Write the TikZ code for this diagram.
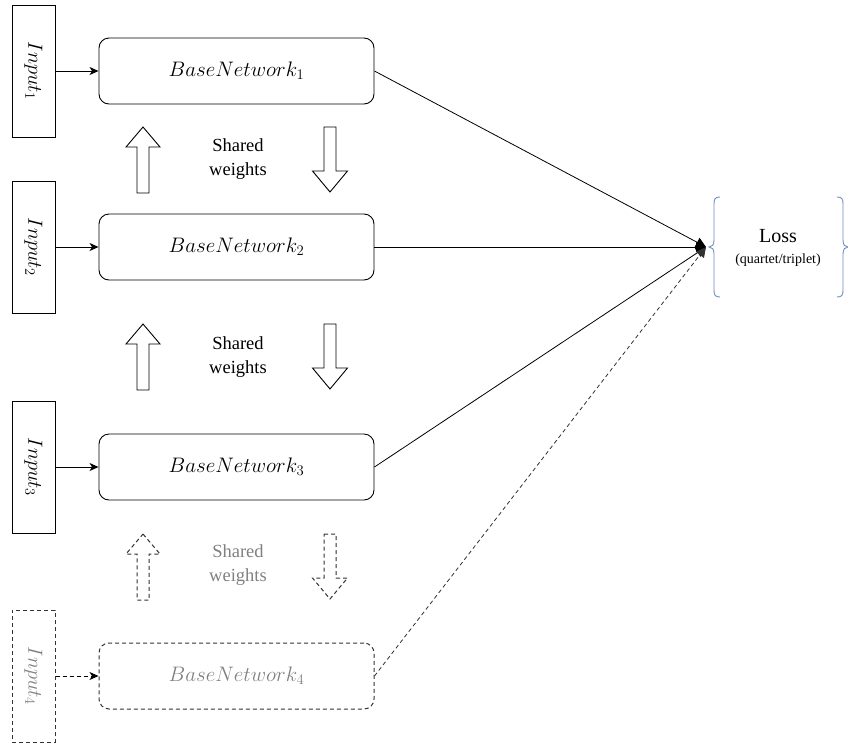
\RequirePackage{fix-cm}
\documentclass[tikz,border=0pt]{standalone}
\usepackage{fontspec}
\setmainfont{Liberation Serif}
\usetikzlibrary{arrows.meta}
\definecolor{braceblue}{RGB}{108,142,191}
\definecolor{ghostline}{RGB}{50,50,50}
\definecolor{ghosttext}{RGB}{128,128,128}
\tikzset{
  inbox/.style={draw, line width=0.9pt, minimum width=43, minimum height=132, inner sep=0pt,
    font=\fontsize{20.5}{24}\selectfont},
  netbox/.style={draw, line width=0.9pt, rounded corners=10, minimum width=275, minimum height=66,
    inner sep=0pt, font=\fontsize{21}{24}\selectfont},
  ghost/.style={draw=ghostline, line width=1pt, dash pattern=on 4pt off 3pt, text=ghosttext},
  sharedtxt/.style={font=\rmfamily\fontsize{18.5}{24}\selectfont, align=center, inner sep=0pt},
  feed/.style={line width=0.9pt, -{Stealth[length=9pt,width=8pt,inset=2.5pt]}},
  tolossarr/.style={line width=0.8pt, -{Triangle[length=10pt,width=10pt]}},
  blockarr/.style={draw, line width=0.9pt, fill=white},
  uparrow/.pic={\path[pic actions] (0,0) -- (17,20) -- (6,20) -- (6,66) -- (-6,66) -- (-6,20) -- (-17,20) -- cycle;},
  downarrow/.pic={\path[pic actions] (-6,0) -- (6,0) -- (6,44) -- (17.5,44) -- (0,65) -- (-17.5,44) -- (-6,44) -- cycle;},
}
\begin{document}
\begin{tikzpicture}[x=1pt,y=-1pt]
\useasboundingbox (0,0) rectangle (848,742);

% input columns
\node[inbox] (in1) at (33.5,71)  {\rotatebox{-90}{$Input_1$}};
\node[inbox] (in2) at (33.5,247) {\rotatebox{-90}{$Input_2$}};
\node[inbox] (in3) at (33.5,467) {\rotatebox{-90}{$Input_3$}};
\node[inbox, ghost] (in4) at (33.5,676) {\rotatebox{-90}{$Input_4$}};

% base networks
\node[netbox] (net1) at (236.5,71)  {$BaseNetwork_1$};
\node[netbox] (net2) at (236.5,247) {$BaseNetwork_2$};
\node[netbox] (net3) at (236.5,467) {$BaseNetwork_3$};
\node[netbox, ghost] (net4) at (236.5,676) {$BaseNetwork_4$};

% shared weights between consecutive networks
\pic[blockarr] at (143,127) {uparrow};
\pic[blockarr] at (330,127) {downarrow};
\node[sharedtxt] (sw1) at (238,159) {Shared\\weights};

\pic[blockarr] at (143,324) {uparrow};
\pic[blockarr] at (330,324) {downarrow};
\node[sharedtxt] (sw2) at (238,357) {Shared\\weights};

\pic[blockarr, ghost] at (143,534) {uparrow};
\pic[blockarr, ghost] at (330,534) {downarrow};
\node[sharedtxt, text=ghosttext] (sw3) at (238,565) {Shared\\weights};

% loss
\node[align=center, inner sep=0pt, minimum width=120, minimum height=100] (loss) at (778,248)
  {{\fontsize{20}{24}\selectfont Loss}\\[9pt]{\fontsize{14}{17}\selectfont (quartet/triplet)}};
\coordinate (lossin) at (706,247);
\draw[braceblue, line width=0.9pt]
  (720,197) .. controls (715,197) and (714,199) .. (714,204) -- (714,240)
  .. controls (714,245) and (712,247) .. (709,247)
  .. controls (712,247) and (714,249) .. (714,254) -- (714,290)
  .. controls (714,295) and (715,297) .. (720,297);
\draw[braceblue, line width=0.9pt]
  (837,197) .. controls (842,197) and (843,199) .. (843,204) -- (843,240)
  .. controls (843,245) and (845,247) .. (848,247)
  .. controls (845,247) and (843,249) .. (843,254) -- (843,290)
  .. controls (843,295) and (842,297) .. (837,297);

% inputs into networks
\draw[feed] (in1.east) -- (net1.west);
\draw[feed] (in2.east) -- (net2.west);
\draw[feed] (in3.east) -- (net3.west);
\draw[feed, dash pattern=on 4pt off 3pt] (in4.east) -- (net4.west);

% networks into loss
\draw[tolossarr] (net1.east) -- (lossin);
\draw[tolossarr] (net2.east) -- (lossin);
\draw[tolossarr] (net3.east) -- (lossin);
\draw[tolossarr, ghostline, dash pattern=on 4pt off 3pt] (net4.east) -- (lossin);
\end{tikzpicture}
\end{document}
